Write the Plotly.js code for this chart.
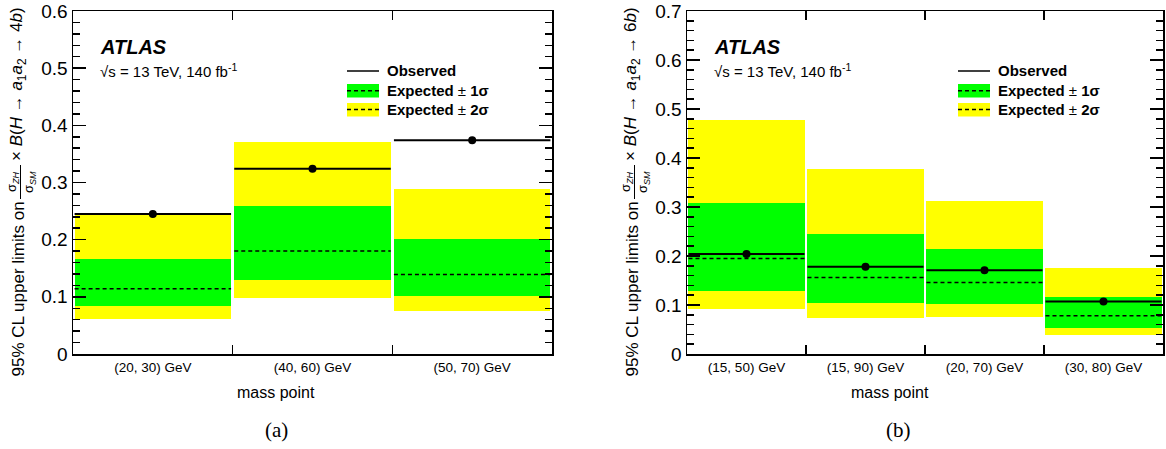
<!DOCTYPE html>
<html>
<head>
<meta charset="utf-8">
<script src="https://cdn.plot.ly/plotly-3.0.1.min.js"></script>
<style>html,body{margin:0;padding:0;background:#fff;}#chart{width:1166px;height:449px;}</style>
</head>
<body>
<div id="chart"></div>
<script>
// ---- Data: panel (a), H -> a1 a2 -> 4b ----
const massA = ['(20, 30) GeV', '(40, 60) GeV', '(50, 70) GeV'];
const obsA  = [0.245, 0.324, 0.374];
const expA  = [0.114, 0.180, 0.139];
const s1loA = [0.084, 0.129, 0.101];
const s1hiA = [0.167, 0.259, 0.201];
const s2loA = [0.062, 0.098, 0.076];
const s2hiA = [0.243, 0.370, 0.289];

// ---- Data: panel (b), H -> a1 a2 -> 6b ----
const massB = ['(15, 50) GeV', '(15, 90) GeV', '(20, 70) GeV', '(30, 80) GeV'];
const obsB  = [0.204, 0.178, 0.171, 0.107];
const expB  = [0.195, 0.156, 0.146, 0.078];
const s1loB = [0.129, 0.104, 0.103, 0.053];
const s1hiB = [0.308, 0.245, 0.214, 0.117];
const s2loB = [0.091, 0.074, 0.076, 0.039];
const s2hiB = [0.478, 0.377, 0.312, 0.176];

const W = 1166, H = 449;
const FONT = 'Liberation Sans, Arial, Helvetica, sans-serif';
const px = x => x / W;
const py = y => (H - y) / H;

function binTraces(cats, obs, exp, s1lo, s1hi, s2lo, s2hi, bw, xa, ya) {
  const centers = cats.map((_, i) => i + 0.5);
  const segX = [], segObs = [], segExp = [];
  centers.forEach((c, i) => {
    segX.push(c - bw / 2, c + bw / 2, null);
    segObs.push(obs[i], obs[i], null);
    segExp.push(exp[i], exp[i], null);
  });
  return [
    {type: 'bar', x: centers, base: s2lo, y: s2hi.map((v, i) => v - s2lo[i]), width: bw,
     marker: {color: '#ffff00', line: {width: 0}}, xaxis: xa, yaxis: ya, hoverinfo: 'skip'},
    {type: 'bar', x: centers, base: s1lo, y: s1hi.map((v, i) => v - s1lo[i]), width: bw,
     marker: {color: '#00ff00', line: {width: 0}}, xaxis: xa, yaxis: ya, hoverinfo: 'skip'},
    {type: 'scatter', mode: 'lines', x: segX, y: segExp, line: {color: 'black', width: 1.5, dash: '4px,3px'},
     xaxis: xa, yaxis: ya, connectgaps: false},
    {type: 'scatter', mode: 'lines', x: segX, y: segObs, line: {color: 'black', width: 2},
     xaxis: xa, yaxis: ya, connectgaps: false},
    {type: 'scatter', mode: 'markers', x: centers, y: obs, marker: {color: 'black', size: 8},
     xaxis: xa, yaxis: ya}
  ];
}

const data = [
  ...binTraces(massA, obsA, expA, s1loA, s1hiA, s2loA, s2hiA, 0.98, 'x', 'y'),
  ...binTraces(massB, obsB, expB, s1loB, s1hiB, s2loB, s2hiB, 0.975, 'x2', 'y2')
];

function xAxis(cats, dom, anchor) {
  return {
    domain: dom, anchor: anchor, range: [0, cats.length],
    tickmode: 'array', tickvals: cats.map((_, i) => i + 0.5), ticktext: cats,
    ticks: 'inside', ticklen: 0, tickfont: {family: FONT, size: 13.5, color: '#000'},
    minor: {tickmode: 'array', tickvals: cats.slice(1).map((_, i) => i + 1), ticks: 'inside',
            ticklen: 9, tickwidth: 1.5, tickcolor: '#000'},
    showline: true, linecolor: '#000', linewidth: 1.5, mirror: 'allticks',
    showgrid: false, zeroline: false, fixedrange: true
  };
}
function yAxis(maxv, dom, anchor) {
  return {
    domain: dom, anchor: anchor, range: [0, maxv], tick0: 0, dtick: 0.1,
    ticks: 'inside', ticklen: 13, tickwidth: 1.5, tickcolor: '#000',
    tickfont: {family: FONT, size: 19, color: '#000'},
    minor: {tick0: 0, dtick: 0.02, ticks: 'inside', ticklen: 7, tickwidth: 1.5, tickcolor: '#000'},
    showline: true, linecolor: '#000', linewidth: 1.5, mirror: 'allticks',
    showgrid: false, zeroline: false, fixedrange: true
  };
}

const yDom = [py(354), py(11)];
const panels = [
  {ax: 73, bx: 552, yname: '4'},
  {ax: 687, bx: 1163, yname: '6'}
];

const annotations = [];
const shapes = [];
panels.forEach((p, k) => {
  const dx = p.ax - 73;           // shift for left-anchored items
  const rx = p.bx - 552;          // shift for right-anchored items
  // ATLAS label
  annotations.push({xref: 'paper', yref: 'paper', x: px(98 + dx), y: py(47), xanchor: 'left', yanchor: 'middle',
    text: '<b><i>ATLAS</i></b>', showarrow: false, font: {family: FONT, size: 20, color: '#000'}});
  annotations.push({xref: 'paper', yref: 'paper', x: px(98 + dx), y: py(71), xanchor: 'left', yanchor: 'middle',
    text: '√s = 13 TeV, 140 fb<sup>-1</sup>', showarrow: false, font: {family: FONT, size: 15, color: '#000'}});
  // legend
  const lx0 = 347 + rx, lx1 = 379 + rx, tx = 385 + rx;
  shapes.push({type: 'line', xref: 'paper', yref: 'paper', x0: px(lx0), x1: px(lx1), y0: py(71), y1: py(71),
    line: {color: '#000', width: 1.5}});
  shapes.push({type: 'rect', xref: 'paper', yref: 'paper', x0: px(lx0), x1: px(lx1), y0: py(97.5), y1: py(84),
    fillcolor: '#00ff00', line: {width: 0}});
  shapes.push({type: 'line', xref: 'paper', yref: 'paper', x0: px(lx0), x1: px(lx1), y0: py(90.7), y1: py(90.7),
    line: {color: '#000', width: 1.5, dash: '4px,3px'}});
  shapes.push({type: 'rect', xref: 'paper', yref: 'paper', x0: px(lx0), x1: px(lx1), y0: py(116.5), y1: py(103),
    fillcolor: '#ffff00', line: {width: 0}});
  shapes.push({type: 'line', xref: 'paper', yref: 'paper', x0: px(lx0), x1: px(lx1), y0: py(109.5), y1: py(109.5),
    line: {color: '#000', width: 1.5, dash: '4px,3px'}});
  [['<b>Observed</b>', 71], ['<b>Expected</b> ± <b>1σ</b>', 90.7], ['<b>Expected</b> ± <b>2σ</b>', 109.5]].forEach(([t, yy]) => {
    annotations.push({xref: 'paper', yref: 'paper', x: px(tx), y: py(yy), xanchor: 'left', yanchor: 'middle',
      text: t, showarrow: false, font: {family: FONT, size: 15, color: '#000'}});
  });
  // y title pieces
  annotations.push({xref: 'paper', yref: 'paper', x: px(18 + dx), y: py(200), xanchor: 'center', yanchor: 'top',
    textangle: -90, text: '95% CL upper limits on', showarrow: false, font: {family: FONT, size: 17, color: '#000'}});
  annotations.push({xref: 'paper', yref: 'paper', x: px(12 + dx), y: py(182), xanchor: 'center', yanchor: 'middle',
    textangle: -90, text: 'σ<sub><i>ZH</i></sub>', showarrow: false, font: {family: FONT, size: 13, color: '#000'}});
  annotations.push({xref: 'paper', yref: 'paper', x: px(29 + dx), y: py(182), xanchor: 'center', yanchor: 'middle',
    textangle: -90, text: 'σ<sub><i>SM</i></sub>', showarrow: false, font: {family: FONT, size: 13, color: '#000'}});
  shapes.push({type: 'line', xref: 'paper', yref: 'paper', x0: px(20.5 + dx), x1: px(20.5 + dx), y0: py(165), y1: py(199),
    line: {color: '#000', width: 1}});
  annotations.push({xref: 'paper', yref: 'paper', x: px(18 + dx), y: py(163), xanchor: 'center', yanchor: 'bottom',
    textangle: -90, text: '× <i>B</i>(<i>H</i> → <i>a</i><sub>1</sub><i>a</i><sub>2</sub> → ' + p.yname + '<i>b</i>)',
    showarrow: false, font: {family: FONT, size: 17, color: '#000'}});
  // x title and panel label
  annotations.push({xref: 'paper', yref: 'paper', x: px(276 + dx), y: py(392), xanchor: 'center', yanchor: 'middle',
    text: 'mass point', showarrow: false, font: {family: FONT, size: 16, color: '#000'}});
  annotations.push({xref: 'paper', yref: 'paper', x: px(276 + dx + (k ? 9 : 0)), y: py(430), xanchor: 'center', yanchor: 'middle',
    text: k ? '(b)' : '(a)', showarrow: false, font: {family: 'Liberation Serif, Times New Roman, serif', size: 21, color: '#000'}});
});

const layout = {
  width: W, height: H,
  margin: {l: 0, r: 0, t: 0, b: 0},
  paper_bgcolor: '#fff', plot_bgcolor: '#fff',
  showlegend: false, barmode: 'overlay', bargap: 0,
  xaxis: xAxis(massA, [px(73), px(552)], 'y'),
  yaxis: yAxis(0.6, yDom, 'x'),
  xaxis2: xAxis(massB, [px(687), px(1163)], 'y2'),
  yaxis2: yAxis(0.7, yDom, 'x2'),
  annotations: annotations,
  shapes: shapes,
  font: {family: FONT, color: '#000'}
};

Plotly.newPlot('chart', data, layout, {staticPlot: true, displayModeBar: false});
</script>
</body>
</html>
